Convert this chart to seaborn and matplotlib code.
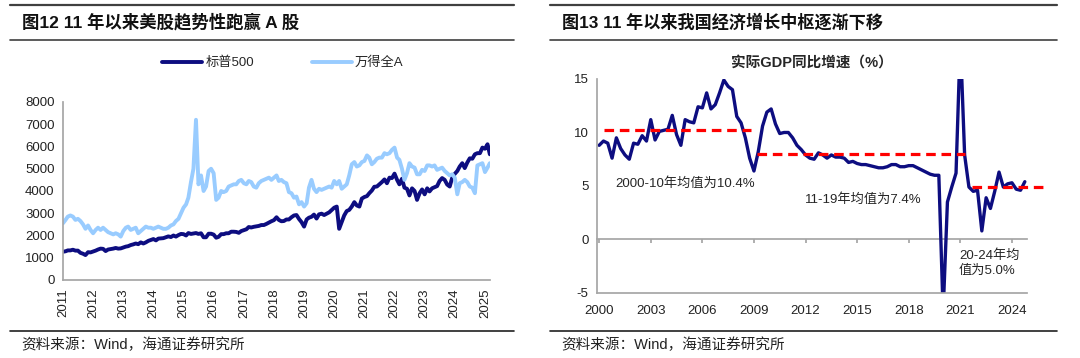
import pandas as pd
import matplotlib.pyplot as plt
import seaborn as sns
from matplotlib.lines import Line2D

sns.set_theme(style="white")
plt.rcParams["font.family"] = ["Liberation Sans", "Noto Sans CJK SC"]
plt.rcParams["axes.unicode_minus"] = False

# ---- left chart: S&P 500 vs Wind All A (monthly) ----
months = pd.date_range("2011-01-01", "2025-03-01", freq="MS")
spx = [
    1270, 1290, 1330, 1330, 1360, 1320, 1320, 1220, 1180, 1120, 1250, 1240,
    1280, 1320, 1370, 1410, 1400, 1300, 1370, 1390, 1410, 1440, 1410, 1420,
    1460, 1500, 1520, 1570, 1600, 1640, 1610, 1690, 1640, 1690, 1760, 1800,
    1840, 1780, 1860, 1870, 1880, 1920, 1960, 1930, 2000, 1950, 2020, 2070,
    2060, 2000, 2110, 2070, 2090, 2110, 2070, 2100, 1920, 1920, 2080, 2080,
    2040, 1900, 1940, 2060, 2060, 2100, 2100, 2170, 2170, 2160, 2120, 2200,
    2240, 2280, 2380, 2360, 2390, 2410, 2430, 2470, 2470, 2520, 2580, 2640,
    2690, 2820, 2700, 2640, 2650, 2720, 2720, 2820, 2900, 2920, 2740, 2600,
    2400, 2720, 2800, 2840, 2940, 2760, 2950, 2980, 2920, 2980, 3040, 3140,
    3250, 3300, 2300, 2600, 2900, 3100, 3150, 3300, 3500, 3350, 3300, 3660,
    3730, 3770, 3900, 4020, 4190, 4200, 4300, 4400, 4520, 4350, 4600, 4580,
    4780, 4500, 4300, 4550, 4150, 4100, 3800, 4120, 4000, 3600, 3900, 4070,
    3850, 4120, 3980, 4120, 4170, 4220, 4450, 4580, 4500, 4290, 4200, 4600,
    4770, 4900, 5100, 5250, 5030, 5280, 5470, 5450, 5650, 5700, 5700, 5950,
    5900, 6100, 5650,
]
wind_a = [
    2550, 2700, 2850, 2900, 2850, 2700, 2750, 2650, 2500, 2300, 2450, 2250,
    2100, 2250, 2350, 2250, 2350, 2250, 2150, 2100, 2050, 2100, 2050, 1950,
    2200, 2350, 2400, 2250, 2300, 2350, 2100, 2200, 2300, 2400, 2350, 2350,
    2300, 2350, 2400, 2350, 2300, 2300, 2350, 2450, 2500, 2650, 2750, 3000,
    3250, 3400, 3700, 4400, 5000, 7200, 4300, 4700, 4000, 4200, 4900, 5000,
    4800, 3600, 3700, 4000, 3950, 4000, 4200, 4250, 4300, 4300, 4450, 4500,
    4350, 4300, 4450, 4400, 4200, 4150, 4350, 4450, 4500, 4550, 4600, 4500,
    4600, 4700, 4450, 4500, 4400, 4350, 3950, 3900, 3700, 3750, 3400, 3500,
    3300, 3450, 4150, 4500, 4100, 3950, 4100, 4050, 4100, 4150, 4200, 4150,
    4450, 4300, 4450, 4100, 4200, 4300, 4700, 5200, 5300, 5100, 5150, 5300,
    5350, 5600, 5500, 5200, 5300, 5450, 5500, 5500, 5700, 5650, 5700, 5850,
    5950, 5500, 5400, 5000, 4500, 4800, 5250, 5100, 5050, 4750, 4750, 4950,
    4900, 5150, 5150, 5100, 5150, 4950, 5000, 5050, 4900, 4800, 4700, 4750,
    4600, 3850, 4350, 4400, 4500, 4400, 4200, 4150, 3900, 5150, 5200, 5250,
    4850, 5050, 5250,
]
left_years = list(range(2011, 2026))

# ---- right chart: China real GDP yoy, quarterly 2000Q1-2024Q4 ----
gdp_yoy = [
    8.8, 9.2, 9.0, 7.6,
    9.5, 8.5, 7.9, 7.5,
    9.0, 8.9, 9.7, 9.2,
    11.2, 9.3, 10.1, 10.2,
    10.3, 11.6, 9.8, 8.8,
    11.2, 11.0, 10.9, 12.4,
    12.3, 13.7, 12.2, 12.6,
    13.7, 14.9, 14.3, 14.0,
    11.5, 10.9, 9.5, 7.6,
    6.4, 8.2, 10.6, 11.9,
    12.2, 10.8, 9.9, 10.0,
    10.0, 9.5, 8.8, 8.4,
    7.9, 7.6, 7.5, 8.1,
    7.9, 7.6, 7.9, 7.7,
    7.7, 7.6, 7.2, 7.3,
    7.1, 7.0, 7.0, 6.9,
    6.8, 6.7, 6.7, 6.8,
    7.0, 7.0, 6.8, 6.8,
    6.9, 6.9, 6.7, 6.5,
    6.3, 6.1, 6.0, 6.0,
    -6.8, 3.5, 4.9, 6.2,
    18.7, 7.9, 4.9, 4.5,
    4.6, 0.8, 3.9, 2.9,
    4.5, 6.3, 4.9, 5.2,
    5.3, 4.7, 4.6, 5.4,
]
quarter_idx = list(range(len(gdp_yoy)))
right_years = list(range(2000, 2025, 3))
right_year_pos = [(y - 2000) * 4 for y in right_years]
avg_level = [10.2, 8.0, 4.9]
avg_start = [1.2, 36.8, 86.8]
avg_end = [35.2, 85.2, 103.7]

navy = "#0d0d80"
light = "#99ccff"
axis_grey = "#a6a6a6"
cjk = ["Liberation Sans", "Noto Sans CJK SC"]

fig = plt.figure(figsize=(10.8, 3.58), dpi=100)

# frame lines and headings
for x0, x1 in [(0.009, 0.476), (0.509, 0.979)]:
    fig.add_artist(Line2D([x0, x1], [0.986, 0.986], color="#404040", lw=1.6))
    fig.add_artist(Line2D([x0, x1], [0.888, 0.888], color="#404040", lw=1.2))
    fig.add_artist(Line2D([x0, x1], [0.075, 0.075], color="#202020", lw=1.2))
fig.text(0.020, 0.9385, "图12 11 年以来美股趋势性跑赢 A 股", fontsize=12.5,
         fontweight="bold", family=cjk, va="center", color="#111111")
fig.text(0.520, 0.9385, "图13 11 年以来我国经济增长中枢逐渐下移", fontsize=12.3,
         fontweight="bold", family=cjk, va="center", color="#111111")
for x0 in (0.020, 0.520):
    fig.text(x0, 0.036, "资料来源：Wind，海通证券研究所", fontsize=10.5,
             family=cjk, va="center", color="#222222")

# ---- left axes ----
ax1 = fig.add_axes([0.0583, 0.2179, 0.3954, 0.4972])
sns.lineplot(x=months, y=spx, ax=ax1, color=navy, lw=2.8, label="标普500")
sns.lineplot(x=months, y=wind_a, ax=ax1, color=light, lw=2.8, label="万得全A")
ax1.set_ylim(0, 8000)
ax1.set_yticks(range(0, 8001, 1000))
ax1.set_xlim(pd.Timestamp("2011-01-01"), pd.Timestamp("2025-03-03"))
ax1.set_xticks([pd.Timestamp(f"{y}-01-01") for y in left_years])
ax1.set_xticklabels([str(y) for y in left_years], rotation=90)
ax1.legend(loc="center", bbox_to_anchor=(0.262, 0.824), bbox_transform=fig.transFigure,
           ncol=2, frameon=False, handlelength=3.0, handletextpad=0.25,
           columnspacing=4.4, prop={"family": cjk, "size": 9.5})
ax1.set_xlabel("")
ax1.set_ylabel("")

# ---- right axes ----
ax2 = fig.add_axes([0.5528, 0.1816, 0.3981, 0.5978])
sns.lineplot(x=quarter_idx, y=gdp_yoy, ax=ax2, color=navy, lw=2.4)
for lvl, s, e in zip(avg_level, avg_start, avg_end):
    ax2.plot([s, e], [lvl, lvl], color="#ff0000", lw=2.3, dashes=(3, 1.8),
             clip_on=False)
ax2.set_ylim(-5, 15)
ax2.set_yticks([-5, 0, 5, 10, 15])
ax2.set_xlim(-0.5, 99.5)
ax2.set_xticks(right_year_pos)
ax2.set_xticklabels([str(y) for y in right_years])
ax2.spines["bottom"].set_visible(False)
zero_ax = ax2.secondary_xaxis(0.25)
zero_ax.set_xticks(right_year_pos)
zero_ax.set_xticklabels([])
zero_ax.spines["bottom"].set_color(axis_grey)
zero_ax.tick_params(axis="x", direction="out", length=3, color=axis_grey)
ax2.set_title("实际GDP同比增速（%）", fontsize=10.5, fontweight="bold",
              family=cjk, pad=8)
ax2.text(3.7, 5.2, "2000-10年均值为10.4%", fontsize=9.5, family=cjk, va="center")
ax2.text(47.8, 3.7, "11-19年均值为7.4%", fontsize=9.5, family=cjk, va="center")
ax2.text(83.7, -2.2, "20-24年均\n值为5.0%", fontsize=9.5, family=cjk,
         va="center", linespacing=1.3)
ax2.set_xlabel("")
ax2.set_ylabel("")

for ax in (ax1, ax2):
    sns.despine(ax=ax)
    ax.spines["left"].set_color(axis_grey)
    ax.spines["bottom"].set_color(axis_grey)
    ax.tick_params(axis="both", labelsize=9.5, colors="#222222")
    ax.tick_params(axis="y", direction="out", length=3, color=axis_grey, pad=3)
ax1.tick_params(axis="x", direction="out", length=3, color=axis_grey, pad=3)
ax2.tick_params(axis="x", length=0, pad=9)

fig.savefig("out.png", dpi=100)
